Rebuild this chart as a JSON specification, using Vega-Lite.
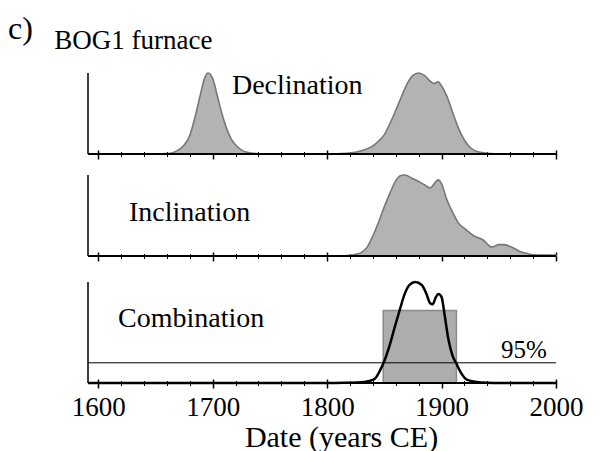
{
  "$schema": "https://vega.github.io/schema/vega-lite/v6.json",
  "padding": {"left": 8, "top": 13, "right": 5, "bottom": 0},
  "background": "white",
  "config": {"view": {"stroke": null}, "font": "Liberation Serif", "axis": {"zindex": 1}},
  "spacing": 11,
  "datasets": {
    "decl": [
      {"year": 1591, "d": 0}, {"year": 1650, "d": 0}, {"year": 1660, "d": 0.005}, {"year": 1665, "d": 0.015},
      {"year": 1670, "d": 0.05}, {"year": 1675, "d": 0.11}, {"year": 1680, "d": 0.23}, {"year": 1685, "d": 0.48},
      {"year": 1689, "d": 0.72}, {"year": 1693, "d": 0.94}, {"year": 1696, "d": 1.0}, {"year": 1700, "d": 0.93},
      {"year": 1704, "d": 0.72}, {"year": 1708, "d": 0.5}, {"year": 1712, "d": 0.32}, {"year": 1716, "d": 0.19},
      {"year": 1720, "d": 0.11}, {"year": 1725, "d": 0.05}, {"year": 1730, "d": 0.02}, {"year": 1740, "d": 0.004},
      {"year": 1750, "d": 0}, {"year": 1800, "d": 0}, {"year": 1810, "d": 0.004}, {"year": 1820, "d": 0.013},
      {"year": 1830, "d": 0.04}, {"year": 1835, "d": 0.065}, {"year": 1840, "d": 0.1}, {"year": 1845, "d": 0.16},
      {"year": 1850, "d": 0.24}, {"year": 1855, "d": 0.38}, {"year": 1860, "d": 0.54}, {"year": 1865, "d": 0.71},
      {"year": 1870, "d": 0.87}, {"year": 1875, "d": 0.97}, {"year": 1880, "d": 1.0}, {"year": 1885, "d": 0.97},
      {"year": 1890, "d": 0.9}, {"year": 1893, "d": 0.87}, {"year": 1897, "d": 0.89}, {"year": 1900, "d": 0.84},
      {"year": 1905, "d": 0.7}, {"year": 1910, "d": 0.5}, {"year": 1915, "d": 0.31}, {"year": 1920, "d": 0.17},
      {"year": 1925, "d": 0.08}, {"year": 1930, "d": 0.035}, {"year": 1940, "d": 0.01}, {"year": 1950, "d": 0.002},
      {"year": 1960, "d": 0}, {"year": 2000, "d": 0}
    ],
    "incl": [
      {"year": 1591, "d": 0}, {"year": 1800, "d": 0}, {"year": 1815, "d": 0.003}, {"year": 1820, "d": 0.008},
      {"year": 1825, "d": 0.02}, {"year": 1830, "d": 0.045}, {"year": 1835, "d": 0.11}, {"year": 1840, "d": 0.25},
      {"year": 1845, "d": 0.42}, {"year": 1850, "d": 0.61}, {"year": 1855, "d": 0.78}, {"year": 1860, "d": 0.93},
      {"year": 1864, "d": 0.99}, {"year": 1868, "d": 1.0}, {"year": 1874, "d": 0.96}, {"year": 1880, "d": 0.92},
      {"year": 1886, "d": 0.87}, {"year": 1890, "d": 0.84}, {"year": 1894, "d": 0.9}, {"year": 1897, "d": 0.94},
      {"year": 1900, "d": 0.89}, {"year": 1904, "d": 0.72}, {"year": 1910, "d": 0.53}, {"year": 1915, "d": 0.4},
      {"year": 1920, "d": 0.34}, {"year": 1928, "d": 0.25}, {"year": 1936, "d": 0.2}, {"year": 1944, "d": 0.11},
      {"year": 1950, "d": 0.14}, {"year": 1955, "d": 0.14}, {"year": 1961, "d": 0.11}, {"year": 1968, "d": 0.06},
      {"year": 1975, "d": 0.03}, {"year": 1980, "d": 0.015}, {"year": 1990, "d": 0.012}, {"year": 2000, "d": 0.012}
    ],
    "comb": [
      {"year": 1591, "d": 0}, {"year": 1800, "d": 0}, {"year": 1815, "d": 0.002}, {"year": 1825, "d": 0.005},
      {"year": 1832, "d": 0.01}, {"year": 1840, "d": 0.03}, {"year": 1843, "d": 0.06}, {"year": 1846, "d": 0.12},
      {"year": 1849, "d": 0.19}, {"year": 1854, "d": 0.35}, {"year": 1859.5, "d": 0.57}, {"year": 1863.6, "d": 0.73},
      {"year": 1867.7, "d": 0.88}, {"year": 1871.8, "d": 0.97}, {"year": 1877, "d": 1.0}, {"year": 1882.7, "d": 0.97},
      {"year": 1886.8, "d": 0.88}, {"year": 1890, "d": 0.79}, {"year": 1892.3, "d": 0.78}, {"year": 1895, "d": 0.85},
      {"year": 1897.3, "d": 0.88}, {"year": 1900, "d": 0.85}, {"year": 1902.7, "d": 0.67}, {"year": 1906, "d": 0.43},
      {"year": 1909.6, "d": 0.27}, {"year": 1913, "d": 0.19}, {"year": 1917, "d": 0.1}, {"year": 1922.5, "d": 0.03},
      {"year": 1930.7, "d": 0.01}, {"year": 1940, "d": 0.002}, {"year": 1950, "d": 0}, {"year": 2000, "d": 0}
    ],
    "hpd": [{"from": 1849, "to": 1913}]
  },
  "vconcat": [
    {
      "width": 468, "height": 81,
      "layer": [
        {
          "data": {"name": "decl"},
          "mark": {"type": "area", "interpolate": "monotone", "fill": "#b3b3b3", "stroke": "#777777", "strokeWidth": 1.6},
          "encoding": {
            "x": {"field": "year", "type": "quantitative", "scale": {"domain": [1591, 2000], "nice": false, "zero": false},
                  "axis": {"orient": "bottom", "values": [1600,1620,1640,1660,1680,1700,1720,1740,1760,1780,1800,1820,1840,1860,1880,1900,1920,1940,1960,1980,2000], "domain": false, "labels": false, "grid": false, "title": null, "tickSize": 5, "tickWidth": 1, "tickColor": "black", "offset": -2.5}},
            "y": {"field": "d", "type": "quantitative", "scale": {"domain": [0, 1], "nice": false}, "axis": null}
          }
        },
        {
          "data": {"values": [{}]},
          "mark": {"type": "rule", "color": "black", "strokeWidth": 2},
          "encoding": {
            "x": {"datum": 1591, "type": "quantitative", "axis": {"orient": "bottom", "values": [1600, 1700, 1800, 1900, 2000], "domain": false, "labels": false, "grid": false, "title": null, "tickSize": 9, "tickWidth": 1.5, "tickColor": "black", "offset": -4}},
            "x2": {"datum": 2000},
            "y": {"datum": 0, "type": "quantitative", "axis": null}
          }
        },
        {
          "data": {"values": [{}]},
          "mark": {"type": "rule", "color": "black", "strokeWidth": 1.5},
          "encoding": {
            "x": {"datum": 1591, "type": "quantitative", "axis": null},
            "y": {"datum": 0, "type": "quantitative", "axis": null},
            "y2": {"datum": 1}
          }
        },
        {
          "data": {"values": [{}]},
          "mark": {"type": "text", "align": "left", "baseline": "alphabetic", "fontSize": 28, "color": "black"},
          "encoding": {
            "x": {"datum": 1716.8, "type": "quantitative", "axis": null},
            "y": {"datum": 0.74, "type": "quantitative", "axis": null},
            "text": {"value": "Declination"}
          }
        },
        {
          "data": {"values": [{}]},
          "mark": {"type": "text", "align": "left", "baseline": "alphabetic", "fontSize": 27, "color": "black"},
          "encoding": {
            "x": {"datum": 1561.5, "type": "quantitative", "axis": null},
            "y": {"datum": 1.3, "type": "quantitative", "axis": null},
            "text": {"value": "BOG1 furnace"}
          }
        },
        {
          "data": {"values": [{}]},
          "mark": {"type": "text", "align": "left", "baseline": "alphabetic", "fontSize": 32, "color": "black"},
          "encoding": {
            "x": {"datum": 1521.1, "type": "quantitative", "axis": null},
            "y": {"datum": 1.415, "type": "quantitative", "axis": null},
            "text": {"value": "c)"}
          }
        }
      ],
      "resolve": {"axis": {"x": "independent"}}
    },
    {
      "width": 468, "height": 81,
      "layer": [
        {
          "data": {"name": "incl"},
          "mark": {"type": "area", "interpolate": "monotone", "fill": "#b3b3b3", "stroke": "#777777", "strokeWidth": 1.6},
          "encoding": {
            "x": {"field": "year", "type": "quantitative", "scale": {"domain": [1591, 2000], "nice": false, "zero": false},
                  "axis": {"orient": "bottom", "values": [1600,1620,1640,1660,1680,1700,1720,1740,1760,1780,1800,1820,1840,1860,1880,1900,1920,1940,1960,1980,2000], "domain": false, "labels": false, "grid": false, "title": null, "tickSize": 5, "tickWidth": 1, "tickColor": "black", "offset": -2.5}},
            "y": {"field": "d", "type": "quantitative", "scale": {"domain": [0, 1], "nice": false}, "axis": null}
          }
        },
        {
          "data": {"values": [{}]},
          "mark": {"type": "rule", "color": "black", "strokeWidth": 2},
          "encoding": {
            "x": {"datum": 1591, "type": "quantitative", "axis": {"orient": "bottom", "values": [1600, 1700, 1800, 1900, 2000], "domain": false, "labels": false, "grid": false, "title": null, "tickSize": 9, "tickWidth": 1.5, "tickColor": "black", "offset": -4}},
            "x2": {"datum": 2000},
            "y": {"datum": 0, "type": "quantitative", "axis": null}
          }
        },
        {
          "data": {"values": [{}]},
          "mark": {"type": "rule", "color": "black", "strokeWidth": 1.5},
          "encoding": {
            "x": {"datum": 1591, "type": "quantitative", "axis": null},
            "y": {"datum": 0, "type": "quantitative", "axis": null},
            "y2": {"datum": 1}
          }
        },
        {
          "data": {"values": [{}]},
          "mark": {"type": "text", "align": "left", "baseline": "alphabetic", "fontSize": 28, "color": "black"},
          "encoding": {
            "x": {"datum": 1626.8, "type": "quantitative", "axis": null},
            "y": {"datum": 0.43, "type": "quantitative", "axis": null},
            "text": {"value": "Inclination"}
          }
        }
      ],
      "resolve": {"axis": {"x": "independent"}}
    },
    {
      "width": 468, "height": 110,
      "layer": [
        {
          "data": {"name": "hpd"},
          "mark": {"type": "rect", "fill": "#adadad", "stroke": "#8a8a8a", "strokeWidth": 1.5},
          "encoding": {
            "x": {"field": "from", "type": "quantitative", "scale": {"domain": [1591, 2000], "nice": false, "zero": false}, "axis": null},
            "x2": {"field": "to"},
            "y": {"datum": 0, "type": "quantitative", "scale": {"domain": [0, 1.089], "nice": false}, "axis": null},
            "y2": {"datum": 0.717}
          }
        },
        {
          "data": {"values": [{}]},
          "mark": {"type": "rule", "color": "black", "strokeWidth": 1},
          "encoding": {
            "y": {"datum": 0.2, "type": "quantitative", "axis": null}
          }
        },
        {
          "data": {"name": "comb"},
          "mark": {"type": "line", "interpolate": "monotone", "color": "black", "strokeWidth": 2.5},
          "encoding": {
            "x": {"field": "year", "type": "quantitative",
                  "axis": {"orient": "bottom", "values": [1600,1620,1640,1660,1680,1700,1720,1740,1760,1780,1800,1820,1840,1860,1880,1900,1920,1940,1960,1980,2000], "domain": false, "labels": false, "grid": false, "title": null, "tickSize": 5, "tickWidth": 1, "tickColor": "black", "offset": -2.5}},
            "y": {"field": "d", "type": "quantitative", "axis": null}
          }
        },
        {
          "data": {"values": [{}]},
          "mark": {"type": "rule", "color": "black", "strokeWidth": 2},
          "encoding": {
            "x": {"datum": 1591, "type": "quantitative", "axis": {"orient": "bottom", "values": [1600, 1700, 1800, 1900, 2000], "format": "d", "domain": false, "labels": true, "grid": false, "title": "Date (years CE)", "tickSize": 9, "tickWidth": 1.5, "tickColor": "black", "offset": -4, "labelFontSize": 27, "labelColor": "black", "labelPadding": 6, "labelFlush": false, "labelOverlap": false, "labelFont": "Liberation Serif", "titleFont": "Liberation Serif", "titleFontSize": 30, "titleFontWeight": "normal", "titleColor": "black", "titlePadding": 2, "titleX": 253}},
            "x2": {"datum": 2000},
            "y": {"datum": 0, "type": "quantitative", "axis": null}
          }
        },
        {
          "data": {"values": [{}]},
          "mark": {"type": "rule", "color": "black", "strokeWidth": 1.5},
          "encoding": {
            "x": {"datum": 1591, "type": "quantitative", "axis": null},
            "y": {"datum": 0, "type": "quantitative", "axis": null},
            "y2": {"datum": 1}
          }
        },
        {
          "data": {"values": [{}]},
          "mark": {"type": "text", "align": "left", "baseline": "alphabetic", "fontSize": 28, "color": "black"},
          "encoding": {
            "x": {"datum": 1617.2, "type": "quantitative", "axis": null},
            "y": {"datum": 0.554, "type": "quantitative", "axis": null},
            "text": {"value": "Combination"}
          }
        },
        {
          "data": {"values": [{}]},
          "mark": {"type": "text", "align": "right", "baseline": "alphabetic", "fontSize": 25, "color": "black"},
          "encoding": {
            "x": {"datum": 1992, "type": "quantitative", "axis": null},
            "y": {"datum": 0.245, "type": "quantitative", "axis": null},
            "text": {"value": "95%"}
          }
        }
      ],
      "resolve": {"axis": {"x": "independent"}}
    }
  ]
}
